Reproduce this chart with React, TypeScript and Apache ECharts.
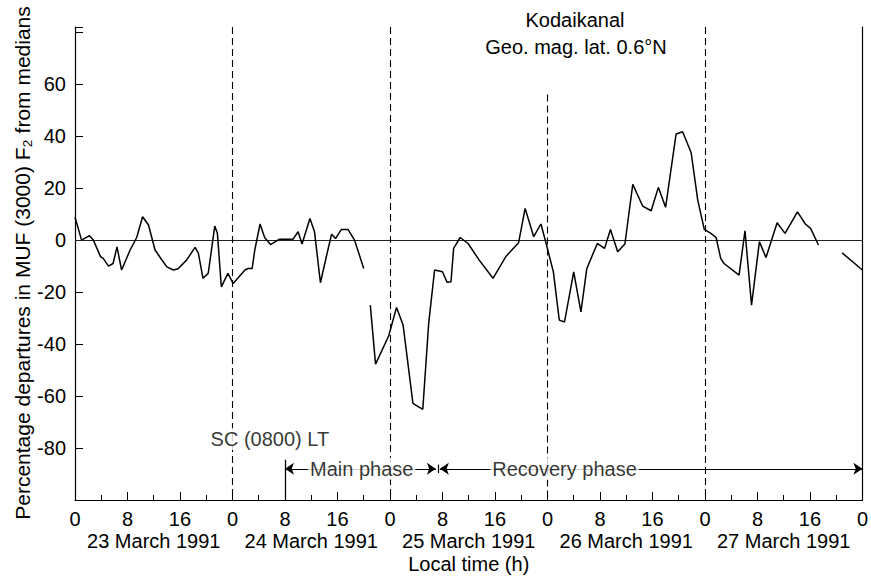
import { useEffect, useRef } from "react";
import * as echarts from "echarts";

const FONT = '"Liberation Sans", Arial, Helvetica, sans-serif';

// 23 March 1991 00h -> 24 March 1991 ~20h
const seg1Hours = [0, 1.0, 2.2, 2.8, 3.9, 4.3, 5.1, 5.8, 6.4, 7.1, 8.4, 9.4, 10.3, 11.2, 12.2, 12.9, 14.0, 15.0, 15.7, 17.0, 18.3, 18.8, 19.5, 20.3, 21.3, 21.7, 22.3, 23.3, 24.1, 25.0, 25.9, 26.4, 27.0, 27.4, 28.2, 28.9, 29.8, 31.1, 33.2, 34.0, 34.6, 35.8, 36.5, 37.4, 38.3, 39.1, 39.7, 40.6, 41.6, 42.6, 44.0];
const seg1Values = [8.8, 0, 1.7, 0, -6.4, -7, -10, -9, -2.6, -11.5, -3.8, 1, 9, 5.8, -3.8, -6.4, -10.3, -11.5, -11, -7.7, -2.8, -5, -14.7, -12.8, 5.4, 2.6, -18, -12.8, -16.7, -14.1, -11.5, -10.9, -10.9, -3.8, 6.2, 1, -1.7, 0.3, 0.3, 3.2, -1.5, 8.3, 3.2, -16.4, -6.4, 2.3, 0.6, 4.1, 4.1, 0, -10.9];

// 24 March ~21h -> 27 March ~17h
const seg2Hours = [45.0, 45.8, 47.8, 49.0, 50.0, 51.5, 53.0, 53.9, 54.8, 56.0, 56.7, 57.3, 57.7, 58.7, 59.9, 61.6, 63.7, 65.7, 67.6, 68.6, 69.9, 71.0, 71.8, 72.9, 73.8, 74.6, 76.0, 77.1, 78.0, 79.6, 80.7, 81.6, 82.7, 83.8, 85.0, 86.5, 87.8, 88.9, 90.0, 91.6, 92.6, 93.9, 94.9, 95.9, 96.9, 97.7, 98.4, 98.9, 101.2, 102.1, 103.1, 104.3, 105.3, 107.0, 108.2, 110.1, 111.3, 112.1, 113.3];
const seg2Values = [-25, -47.7, -36.9, -25.9, -32.7, -62.8, -65.1, -32, -11.5, -12.2, -16.2, -16, -3.2, 1, -1.3, -7.7, -14.7, -6.2, -1, 12.2, 1.3, 6.2, -1.3, -12.2, -30.8, -31.5, -12.2, -27.6, -10.9, -1.3, -3.2, 4.1, -4.5, -1.5, 21.5, 13.1, 11.3, 20.3, 12.6, 40.8, 41.7, 33.6, 15.4, 4.1, 2.6, 1, -7, -9, -13.5, 3.6, -25, -0.6, -6.7, 6.7, 2.6, 10.9, 6.2, 4.5, -1.9];

// 27 March ~21h -> 24h
const seg3Hours = [116.9, 120];
const seg3Values = [-4.9, -11.5];

const dayLabels = ["23 March 1991", "24 March 1991", "25 March 1991", "26 March 1991", "27 March 1991"];
const dayBoundaries = [24, 48, 72, 96];
const scHour = 32;
const mainPhaseEnd = 55.3;
const recoveryEnd = 120;

const X_MIN = 0;
const X_MAX = 120;
const X_STEP = 8;
const Y_MIN = -100;
const Y_MAX = 82;
const Y_STEP = 20;

const zip = (h: number[], v: number[]) => h.map((x, i) => [x, v[i]]);

export default function App() {
  const ref = useRef<HTMLDivElement>(null);
  useEffect(() => {
    const chart = echarts.init(ref.current!, null, { renderer: "svg" });
    const black = "#000";
    const lineSeries = (data: number[][], extra: any = {}) => ({
      type: "line",
      data,
      symbol: "none",
      lineStyle: { color: black, width: 1.5 },
      itemStyle: { color: black },
      z: 4,
      ...extra,
    });
    const arrowY = -88;
    const option: any = {
      animation: false,
      textStyle: { fontFamily: FONT },
      grid: { left: 75, right: 7, top: 27, bottom: 85, show: false },
      xAxis: [
        {
          type: "value",
          min: X_MIN,
          max: X_MAX,
          interval: X_STEP,
          position: "bottom",
          axisLine: { show: true, onZero: false, lineStyle: { color: black, width: 1.2 } },
          axisTick: { show: true, inside: true, length: 8, lineStyle: { color: black } },
          minorTick: { show: true, splitNumber: 2, length: 5, lineStyle: { color: black } },
          axisLabel: {
            formatter: (v: number) => String(v % 24),
            fontSize: 20,
            color: black,
            margin: 9,
            fontFamily: FONT,
          },
          splitLine: { show: false },
          minorSplitLine: { show: false },
          name: "Local time (h)",
          nameLocation: "middle",
          nameGap: 54,
          nameTextStyle: { fontSize: 20, color: black, fontFamily: FONT },
        },
        {
          type: "category",
          data: dayLabels,
          position: "bottom",
          offset: 22,
          axisLine: { show: false },
          axisTick: { show: false },
          axisLabel: { fontSize: 20, color: black, margin: 9, fontFamily: FONT, interval: 0 },
          splitLine: { show: false },
        },
      ],
      yAxis: [
        {
          type: "value",
          min: Y_MIN,
          max: Y_MAX,
          interval: Y_STEP,
          axisLine: { show: true, onZero: false, lineStyle: { color: black, width: 1.2 } },
          axisTick: { show: true, inside: true, length: 8, lineStyle: { color: black } },
          axisLabel: {
            formatter: (v: number) => (v < -90 || v > 70 ? "" : String(v)),
            fontSize: 20,
            color: black,
            margin: 9,
            fontFamily: FONT,
          },
          splitLine: { show: false },
        },
        {
          type: "value",
          position: "right",
          min: Y_MIN,
          max: Y_MAX,
          interval: Y_STEP,
          axisLine: { show: true, onZero: false, lineStyle: { color: black, width: 1.2 } },
          axisTick: { show: false },
          axisLabel: { show: false },
          splitLine: { show: false },
        },
      ],
      graphic: [
        {
          type: "text",
          x: 22,
          y: 263,
          rotation: Math.PI / 2,
          style: {
            text: "Percentage departures in MUF (3000) F\u2082 from medians",
            font: `21px ${FONT}`,
            fill: black,
            align: "center",
            verticalAlign: "middle",
          },
        },
        {
          type: "text",
          x: 575,
          y: 20,
          style: { text: "Kodaikanal", font: `20px ${FONT}`, fill: black, align: "center", verticalAlign: "middle" },
        },
        {
          type: "text",
          x: 576,
          y: 47,
          style: { text: "Geo. mag. lat. 0.6\u00B0N", font: `20px ${FONT}`, fill: black, align: "center", verticalAlign: "middle" },
        },
      ],
      series: [
        lineSeries(zip(seg1Hours, seg1Values), {
          markLine: {
            silent: true,
            symbol: ["none", "none"],
            symbolSize: 9,
            label: { show: false },
            z: 3,
            lineStyle: { color: black, width: 1, type: "solid" },
            data: [
              { yAxis: 0, lineStyle: { color: "#222", width: 1.2, type: "solid" } },
              ...dayBoundaries.map((d) => [
                { coord: [d, d === 72 ? 56 : Y_MAX], lineStyle: { type: [7, 4], width: 1.1, color: black } },
                { coord: [d, Y_MIN] },
              ]),
              [{ coord: [scHour, -84.5], lineStyle: { type: "solid", width: 1.3, color: black } }, { coord: [scHour, Y_MIN] }],
              [{ coord: [mainPhaseEnd, arrowY + 1.6], lineStyle: { type: "solid", width: 1.2, color: black } }, { coord: [mainPhaseEnd, arrowY - 1.6] }],
              [
                { coord: [scHour, arrowY], symbol: "arrow", lineStyle: { type: "solid", width: 1.2, color: black } },
                { coord: [mainPhaseEnd - 0.3, arrowY], symbol: "arrow" },
              ],
              [
                { coord: [mainPhaseEnd + 0.3, arrowY], symbol: "arrow", lineStyle: { type: "solid", width: 1.2, color: black } },
                { coord: [recoveryEnd, arrowY], symbol: "arrow" },
              ],
            ],
          },
        }),
        lineSeries(zip(seg2Hours, seg2Values)),
        lineSeries(zip(seg3Hours, seg3Values)),
        {
          type: "scatter",
          z: 10,
          symbolSize: 1,
          itemStyle: { color: "rgba(0,0,0,0)" },
          silent: true,
          data: [
            { name: "SC (0800) LT", value: [29.7, -76.5] },
            { name: "Main phase", value: [43.7, arrowY] },
            { name: "Recovery phase", value: [74.6, arrowY] },
          ],
          label: {
            show: true,
            position: "inside",
            formatter: (p: any) => p.name,
            color: black,
            fontSize: 20,
            fontFamily: FONT,
            backgroundColor: "#fff",
            padding: [1, 2],
          },
        },
      ],
    };
    chart.setOption(option);
    return () => chart.dispose();
  }, []);
  return (
    <div
      ref={ref}
      style={{ position: "fixed", left: 0, top: 0, width: 871, height: 585, background: "#fff" }}
    />
  );
}
